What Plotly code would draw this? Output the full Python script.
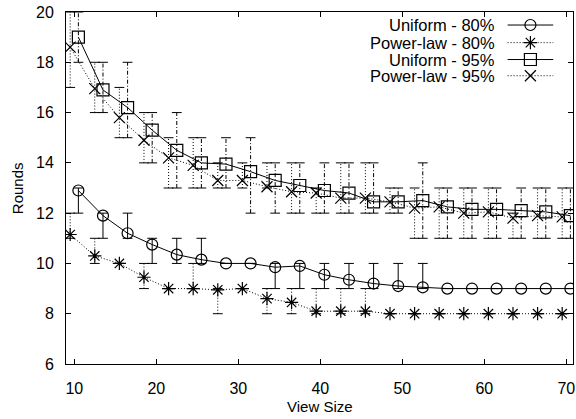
import plotly.graph_objects as go

# ---------------- data ----------------
view_size = list(range(10, 71, 3))

uniform_80 = [12.9, 11.9, 11.2, 10.75, 10.35, 10.15, 10.0, 10.0, 9.85, 9.9, 9.55,
              9.35, 9.2, 9.1, 9.05, 9.0, 9.0, 9.0, 9.0, 9.0, 9.0]
uniform_80_min = [12, 11, 11, 10, 10, 10, 10, 10, 9, 9, 9, 9, 9, 9, 9, 9, 9, 9, 9, 9, 9]
uniform_80_max = [13, 12, 12, 11, 11, 11, 10, 10, 10, 10, 10, 10, 10, 10, 10, 9, 9, 9, 9, 9, 9]

power_80 = [11.15, 10.3, 10.0, 9.45, 9.0, 9.0, 8.95, 9.0, 8.6, 8.45, 8.1,
            8.1, 8.1, 8.0, 8.0, 8.0, 8.0, 8.0, 8.0, 8.0, 8.0]
power_80_min = [11, 10, 10, 9, 9, 9, 8, 9, 8, 8, 8, 8, 8, 8, 8, 8, 8, 8, 8, 8, 8]
power_80_max = [12, 11, 10, 10, 9, 10, 9, 9, 9, 9, 9, 9, 9, 8, 8, 8, 8, 8, 8, 8, 8]

uniform_95 = [19.0, 16.9, 16.2, 15.3, 14.5, 14.0, 13.95, 13.65, 13.3, 13.1, 12.9,
              12.8, 12.45, 12.45, 12.5, 12.25, 12.15, 12.15, 12.1, 12.05, 11.9]
uniform_95_min = [18, 16, 15, 14, 13, 13, 13, 12, 12, 12, 12, 12, 12, 12, 11, 11, 11, 11, 11, 11, 11]
uniform_95_max = [20, 18, 18, 16, 16, 15, 15, 15, 14, 14, 14, 14, 14, 13, 14, 13, 13, 13, 13, 13, 13]

power_95 = [18.6, 16.95, 15.8, 14.9, 14.2, 13.9, 13.3, 13.3, 13.05, 12.85, 12.8,
            12.6, 12.6, 12.45, 12.2, 12.25, 12.0, 12.05, 11.8, 11.9, 11.85]
power_95_min = [17, 16, 15, 14, 13, 13, 13, 13, 13, 12, 12, 12, 12, 12, 11, 11, 11, 11, 11, 11, 11]
power_95_max = [20, 18, 17, 16, 15, 15, 14, 14, 14, 14, 13, 14, 14, 13, 13, 13, 13, 13, 12, 13, 13]

x_ticks = [10, 20, 30, 40, 50, 60, 70]
y_ticks = [6, 8, 10, 12, 14, 16, 18, 20]

series_names = ["Uniform - 80%", "Power-law - 80%", "Uniform - 95%", "Power-law - 95%"]

# ---------------- styles ----------------
FONT = "Liberation Sans, Arial, Helvetica, sans-serif"
FS = 16
BLACK = "#000000"
DOT = "1px,2px"
DASHDOT = "4px,2px,1px,2px"

series = [
    dict(name=series_names[0], y=uniform_80, lo=uniform_80_min, hi=uniform_80_max,
         off=0.5, symbol="circle-open", msize=11, line_dash="solid", bar_dash="solid"),
    dict(name=series_names[1], y=power_80, lo=power_80_min, hi=power_80_max,
         off=-0.5, symbol="asterisk-open", msize=11, line_dash=DOT, bar_dash=DOT),
    dict(name=series_names[2], y=uniform_95, lo=uniform_95_min, hi=uniform_95_max,
         off=0.5, symbol="square-open", msize=12, line_dash="solid", bar_dash=DASHDOT),
    dict(name=series_names[3], y=power_95, lo=power_95_min, hi=power_95_max,
         off=-0.5, symbol="x-thin-open", msize=11, line_dash=DOT, bar_dash=DOT),
]

fig = go.Figure()

# error bars (drawn first)
for s in series:
    xs = [v + s["off"] for v in view_size]
    bx, by = [], []
    for x, lo, hi in zip(xs, s["lo"], s["hi"]):
        bx += [x, x, None]
        by += [lo, hi, None]
    fig.add_trace(go.Scatter(x=bx, y=by, mode="lines", showlegend=False,
                             line=dict(color=BLACK, width=1, dash=s["bar_dash"]),
                             hoverinfo="skip"))
    fig.add_trace(go.Scatter(x=xs + xs, y=s["lo"] + s["hi"], mode="markers",
                             showlegend=False, hoverinfo="skip",
                             marker=dict(symbol="line-ew-open", size=7, color=BLACK,
                                         line=dict(color=BLACK, width=1))))

# data lines + markers
for s in series:
    xs = [v + s["off"] for v in view_size]
    fig.add_trace(go.Scatter(x=xs, y=s["y"], mode="lines+markers", name=s["name"],
                             showlegend=False,
                             line=dict(color=BLACK, width=1, dash=s["line_dash"]),
                             marker=dict(symbol=s["symbol"], size=s["msize"], color=BLACK,
                                         line=dict(color=BLACK, width=1.2))))

# custom gnuplot-style legend (text on the left, sample on the right)
leg_rows = [0.963, 0.913, 0.865, 0.819]
leg_x0, leg_x1, leg_xm, leg_tx = 0.871, 0.961, 0.916, 0.850
annotations = []
for s, yr in zip(series, leg_rows):
    fig.add_trace(go.Scatter(x=[leg_x0, leg_x1], y=[yr, yr], mode="lines",
                             xaxis="x2", yaxis="y2", showlegend=False, hoverinfo="skip",
                             line=dict(color=BLACK, width=1, dash=s["line_dash"])))
    fig.add_trace(go.Scatter(x=[leg_xm], y=[yr], mode="markers",
                             xaxis="x2", yaxis="y2", showlegend=False, hoverinfo="skip",
                             marker=dict(symbol=s["symbol"], size=s["msize"], color=BLACK,
                                         line=dict(color=BLACK, width=1.2))))
    annotations.append(dict(x=leg_tx, y=yr, xref="paper", yref="paper", text=s["name"],
                            showarrow=False, xanchor="right", yanchor="middle",
                            font=dict(family=FONT, size=FS + 0.5, color=BLACK)))

annotations.append(dict(x=0.5, y=-42/352, xref="paper", yref="paper", text="View Size",
                        showarrow=False, xanchor="center", yanchor="middle",
                        font=dict(family=FONT, size=FS - 1, color=BLACK)))
annotations.append(dict(x=-49/509, y=0.5, xref="paper", yref="paper", text="Rounds",
                        showarrow=False, xanchor="center", yanchor="middle", textangle=-90,
                        font=dict(family=FONT, size=FS - 1, color=BLACK)))

axis_common = dict(showgrid=False, zeroline=False, showline=True, linecolor=BLACK,
                   linewidth=1, ticks="inside", ticklen=5, tickcolor=BLACK, tickwidth=1,
                   mirror="ticks", ticklabeloverflow="allow",
                   tickfont=dict(family=FONT, size=FS, color=BLACK))

fig.update_layout(
    width=576, height=419,
    margin=dict(l=66, r=1, t=12, b=55),
    paper_bgcolor="white", plot_bgcolor="white",
    font=dict(family=FONT, size=FS, color=BLACK),
    xaxis=dict(range=[8.99, 70.82], tickvals=x_ticks, ticklabelstandoff=10, **axis_common),
    yaxis=dict(range=[6, 20], tickvals=y_ticks, ticklabelstandoff=8, **axis_common),
    xaxis2=dict(overlaying="x", range=[0, 1], visible=False, anchor="y2"),
    yaxis2=dict(overlaying="y", range=[0, 1], visible=False, anchor="x2"),
    annotations=annotations,
    showlegend=False,
)

fig.write_html("out.html", config={"displayModeBar": False},
               post_script="document.body.style.margin='0px';")
